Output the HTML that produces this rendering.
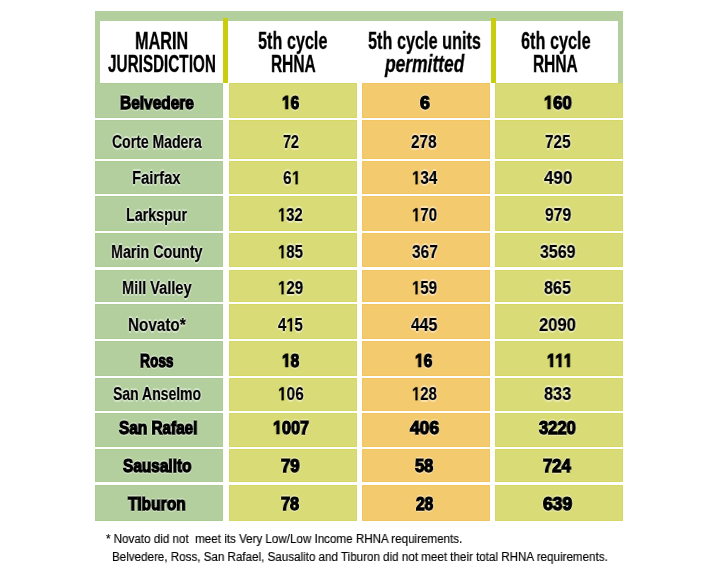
<!DOCTYPE html>
<html><head><meta charset="utf-8"><style>
html,body{margin:0;padding:0;background:#fff;width:720px;height:576px;overflow:hidden;position:relative}
.t{position:absolute;white-space:pre;font-family:"Liberation Sans",sans-serif;color:#000;line-height:1;transform-origin:0 0}
.h{text-shadow:1.6px 0 .7px rgba(255,255,255,.45),-1.6px 0 .7px rgba(255,255,255,.45),0 1.6px .7px rgba(255,255,255,.45),0 -1.6px .7px rgba(255,255,255,.45)}
.t{will-change:transform}
</style></head><body>
<div style="position:absolute;left:95.00px;top:11.00px;width:528.00px;height:72.00px;background:#b3cf9e;"></div>
<div style="position:absolute;left:100.00px;top:21.00px;width:518.00px;height:62.00px;background:#fff;"></div>
<div style="position:absolute;left:223.00px;top:17.50px;width:5.00px;height:65.00px;background:#c9cd10;"></div>
<div style="position:absolute;left:490.80px;top:17.50px;width:4.80px;height:65.00px;background:#c9cd10;"></div>
<div style="position:absolute;left:95.00px;top:82.90px;width:128.10px;height:35.10px;background:#b3cf9e;box-shadow:inset 0 0 0 1px rgba(150,190,120,.22)"></div>
<div style="position:absolute;left:228.75px;top:82.90px;width:127.95px;height:35.10px;background:#d9dc76;box-shadow:inset 0 0 0 1px rgba(200,205,40,.22)"></div>
<div style="position:absolute;left:361.70px;top:82.90px;width:128.20px;height:35.10px;background:#f4ca6f;box-shadow:inset 0 0 0 1px rgba(240,180,50,.22)"></div>
<div style="position:absolute;left:495.00px;top:82.90px;width:128.10px;height:35.10px;background:#d9dc76;box-shadow:inset 0 0 0 1px rgba(200,205,40,.22)"></div>
<div style="position:absolute;left:95.00px;top:120.40px;width:128.10px;height:38.70px;background:#b3cf9e;box-shadow:inset 0 0 0 1px rgba(150,190,120,.22)"></div>
<div style="position:absolute;left:228.75px;top:120.40px;width:127.95px;height:38.70px;background:#d9dc76;box-shadow:inset 0 0 0 1px rgba(200,205,40,.22)"></div>
<div style="position:absolute;left:361.70px;top:120.40px;width:128.20px;height:38.70px;background:#f4ca6f;box-shadow:inset 0 0 0 1px rgba(240,180,50,.22)"></div>
<div style="position:absolute;left:495.00px;top:120.40px;width:128.10px;height:38.70px;background:#d9dc76;box-shadow:inset 0 0 0 1px rgba(200,205,40,.22)"></div>
<div style="position:absolute;left:95.00px;top:161.10px;width:128.10px;height:33.10px;background:#b3cf9e;box-shadow:inset 0 0 0 1px rgba(150,190,120,.22)"></div>
<div style="position:absolute;left:228.75px;top:161.10px;width:127.95px;height:33.10px;background:#d9dc76;box-shadow:inset 0 0 0 1px rgba(200,205,40,.22)"></div>
<div style="position:absolute;left:361.70px;top:161.10px;width:128.20px;height:33.10px;background:#f4ca6f;box-shadow:inset 0 0 0 1px rgba(240,180,50,.22)"></div>
<div style="position:absolute;left:495.00px;top:161.10px;width:128.10px;height:33.10px;background:#d9dc76;box-shadow:inset 0 0 0 1px rgba(200,205,40,.22)"></div>
<div style="position:absolute;left:95.00px;top:196.25px;width:128.10px;height:34.35px;background:#b3cf9e;box-shadow:inset 0 0 0 1px rgba(150,190,120,.22)"></div>
<div style="position:absolute;left:228.75px;top:196.25px;width:127.95px;height:34.35px;background:#d9dc76;box-shadow:inset 0 0 0 1px rgba(200,205,40,.22)"></div>
<div style="position:absolute;left:361.70px;top:196.25px;width:128.20px;height:34.35px;background:#f4ca6f;box-shadow:inset 0 0 0 1px rgba(240,180,50,.22)"></div>
<div style="position:absolute;left:495.00px;top:196.25px;width:128.10px;height:34.35px;background:#d9dc76;box-shadow:inset 0 0 0 1px rgba(200,205,40,.22)"></div>
<div style="position:absolute;left:95.00px;top:233.00px;width:128.10px;height:34.20px;background:#b3cf9e;box-shadow:inset 0 0 0 1px rgba(150,190,120,.22)"></div>
<div style="position:absolute;left:228.75px;top:233.00px;width:127.95px;height:34.20px;background:#d9dc76;box-shadow:inset 0 0 0 1px rgba(200,205,40,.22)"></div>
<div style="position:absolute;left:361.70px;top:233.00px;width:128.20px;height:34.20px;background:#f4ca6f;box-shadow:inset 0 0 0 1px rgba(240,180,50,.22)"></div>
<div style="position:absolute;left:495.00px;top:233.00px;width:128.10px;height:34.20px;background:#d9dc76;box-shadow:inset 0 0 0 1px rgba(200,205,40,.22)"></div>
<div style="position:absolute;left:95.00px;top:269.60px;width:128.10px;height:32.50px;background:#b3cf9e;box-shadow:inset 0 0 0 1px rgba(150,190,120,.22)"></div>
<div style="position:absolute;left:228.75px;top:269.60px;width:127.95px;height:32.50px;background:#d9dc76;box-shadow:inset 0 0 0 1px rgba(200,205,40,.22)"></div>
<div style="position:absolute;left:361.70px;top:269.60px;width:128.20px;height:32.50px;background:#f4ca6f;box-shadow:inset 0 0 0 1px rgba(240,180,50,.22)"></div>
<div style="position:absolute;left:495.00px;top:269.60px;width:128.10px;height:32.50px;background:#d9dc76;box-shadow:inset 0 0 0 1px rgba(200,205,40,.22)"></div>
<div style="position:absolute;left:95.00px;top:304.40px;width:128.10px;height:34.50px;background:#b3cf9e;box-shadow:inset 0 0 0 1px rgba(150,190,120,.22)"></div>
<div style="position:absolute;left:228.75px;top:304.40px;width:127.95px;height:34.50px;background:#d9dc76;box-shadow:inset 0 0 0 1px rgba(200,205,40,.22)"></div>
<div style="position:absolute;left:361.70px;top:304.40px;width:128.20px;height:34.50px;background:#f4ca6f;box-shadow:inset 0 0 0 1px rgba(240,180,50,.22)"></div>
<div style="position:absolute;left:495.00px;top:304.40px;width:128.10px;height:34.50px;background:#d9dc76;box-shadow:inset 0 0 0 1px rgba(200,205,40,.22)"></div>
<div style="position:absolute;left:95.00px;top:341.10px;width:128.10px;height:34.70px;background:#b3cf9e;box-shadow:inset 0 0 0 1px rgba(150,190,120,.22)"></div>
<div style="position:absolute;left:228.75px;top:341.10px;width:127.95px;height:34.70px;background:#d9dc76;box-shadow:inset 0 0 0 1px rgba(200,205,40,.22)"></div>
<div style="position:absolute;left:361.70px;top:341.10px;width:128.20px;height:34.70px;background:#f4ca6f;box-shadow:inset 0 0 0 1px rgba(240,180,50,.22)"></div>
<div style="position:absolute;left:495.00px;top:341.10px;width:128.10px;height:34.70px;background:#d9dc76;box-shadow:inset 0 0 0 1px rgba(200,205,40,.22)"></div>
<div style="position:absolute;left:95.00px;top:378.00px;width:128.10px;height:33.00px;background:#b3cf9e;box-shadow:inset 0 0 0 1px rgba(150,190,120,.22)"></div>
<div style="position:absolute;left:228.75px;top:378.00px;width:127.95px;height:33.00px;background:#d9dc76;box-shadow:inset 0 0 0 1px rgba(200,205,40,.22)"></div>
<div style="position:absolute;left:361.70px;top:378.00px;width:128.20px;height:33.00px;background:#f4ca6f;box-shadow:inset 0 0 0 1px rgba(240,180,50,.22)"></div>
<div style="position:absolute;left:495.00px;top:378.00px;width:128.10px;height:33.00px;background:#d9dc76;box-shadow:inset 0 0 0 1px rgba(200,205,40,.22)"></div>
<div style="position:absolute;left:95.00px;top:413.10px;width:128.10px;height:33.90px;background:#b3cf9e;box-shadow:inset 0 0 0 1px rgba(150,190,120,.22)"></div>
<div style="position:absolute;left:228.75px;top:413.10px;width:127.95px;height:33.90px;background:#d9dc76;box-shadow:inset 0 0 0 1px rgba(200,205,40,.22)"></div>
<div style="position:absolute;left:361.70px;top:413.10px;width:128.20px;height:33.90px;background:#f4ca6f;box-shadow:inset 0 0 0 1px rgba(240,180,50,.22)"></div>
<div style="position:absolute;left:495.00px;top:413.10px;width:128.10px;height:33.90px;background:#d9dc76;box-shadow:inset 0 0 0 1px rgba(200,205,40,.22)"></div>
<div style="position:absolute;left:95.00px;top:449.40px;width:128.10px;height:32.90px;background:#b3cf9e;box-shadow:inset 0 0 0 1px rgba(150,190,120,.22)"></div>
<div style="position:absolute;left:228.75px;top:449.40px;width:127.95px;height:32.90px;background:#d9dc76;box-shadow:inset 0 0 0 1px rgba(200,205,40,.22)"></div>
<div style="position:absolute;left:361.70px;top:449.40px;width:128.20px;height:32.90px;background:#f4ca6f;box-shadow:inset 0 0 0 1px rgba(240,180,50,.22)"></div>
<div style="position:absolute;left:495.00px;top:449.40px;width:128.10px;height:32.90px;background:#d9dc76;box-shadow:inset 0 0 0 1px rgba(200,205,40,.22)"></div>
<div style="position:absolute;left:95.00px;top:484.60px;width:128.10px;height:36.40px;background:#b3cf9e;box-shadow:inset 0 0 0 1px rgba(150,190,120,.22)"></div>
<div style="position:absolute;left:228.75px;top:484.60px;width:127.95px;height:36.40px;background:#d9dc76;box-shadow:inset 0 0 0 1px rgba(200,205,40,.22)"></div>
<div style="position:absolute;left:361.70px;top:484.60px;width:128.20px;height:36.40px;background:#f4ca6f;box-shadow:inset 0 0 0 1px rgba(240,180,50,.22)"></div>
<div style="position:absolute;left:495.00px;top:484.60px;width:128.10px;height:36.40px;background:#d9dc76;box-shadow:inset 0 0 0 1px rgba(200,205,40,.22)"></div>
<div class="t" style="left:134.54px;top:30.00px;font-size:23.0px;font-weight:bold;font-style:normal;-webkit-text-stroke:0.3px #000;transform:scaleX(0.7062)">MARIN</div>
<div class="t" style="left:107.63px;top:53.20px;font-size:23.0px;font-weight:bold;font-style:normal;-webkit-text-stroke:0.3px #000;transform:scaleX(0.6644)">JURISDICTION</div>
<div class="t" style="left:258.25px;top:30.00px;font-size:23.0px;font-weight:bold;font-style:normal;-webkit-text-stroke:0.3px #000;transform:scaleX(0.7054)">5th cycle</div>
<div class="t" style="left:270.69px;top:53.20px;font-size:23.0px;font-weight:bold;font-style:normal;-webkit-text-stroke:0.3px #000;transform:scaleX(0.6729)">RHNA</div>
<div class="t" style="left:367.85px;top:30.00px;font-size:23.0px;font-weight:bold;font-style:normal;-webkit-text-stroke:0.3px #000;transform:scaleX(0.7066)">5th cycle units</div>
<div class="t" style="left:385.48px;top:53.20px;font-size:23.0px;font-weight:bold;font-style:italic;-webkit-text-stroke:0.3px #000;transform:scaleX(0.7565)">permitted</div>
<div class="t" style="left:521.47px;top:30.00px;font-size:23.0px;font-weight:bold;font-style:normal;-webkit-text-stroke:0.3px #000;transform:scaleX(0.7072)">6th cycle</div>
<div class="t" style="left:533.19px;top:53.20px;font-size:23.0px;font-weight:bold;font-style:normal;-webkit-text-stroke:0.3px #000;transform:scaleX(0.6729)">RHNA</div>
<div class="t h" style="left:120.18px;top:94.10px;font-size:18.2px;font-weight:bold;font-style:normal;-webkit-text-stroke:1.25px #000;transform:scaleX(0.8497)">Belvedere</div>
<div class="t h" style="left:282.07px;top:94.10px;font-size:18.2px;font-weight:bold;font-style:normal;-webkit-text-stroke:1.25px #000;transform:scaleX(0.8557)"><svg style="display:inline-block;width:0.5562em;height:0.7em;vertical-align:baseline;overflow:visible" viewBox="0 0 1139 1434" preserveAspectRatio="none"><path transform="translate(0,1434) scale(1,-1)" d="M478 0L478 1170L140 959L140 1180L493 1409L759 1409L759 0Z" fill="#000" stroke="#000" stroke-width="140.7" stroke-linejoin="miter"/></svg>6</div>
<div class="t h" style="left:419.70px;top:94.10px;font-size:18.2px;font-weight:bold;font-style:normal;-webkit-text-stroke:1.25px #000;transform:scaleX(0.9700)">6</div>
<div class="t h" style="left:544.14px;top:94.10px;font-size:18.2px;font-weight:bold;font-style:normal;-webkit-text-stroke:1.25px #000;transform:scaleX(0.9143)"><svg style="display:inline-block;width:0.5562em;height:0.7em;vertical-align:baseline;overflow:visible" viewBox="0 0 1139 1434" preserveAspectRatio="none"><path transform="translate(0,1434) scale(1,-1)" d="M478 0L478 1170L140 959L140 1180L493 1409L759 1409L759 0Z" fill="#000" stroke="#000" stroke-width="140.7" stroke-linejoin="miter"/></svg>60</div>
<div class="t h" style="left:112.35px;top:132.40px;font-size:19.1px;font-weight:bold;font-style:normal;-webkit-text-stroke:0.2px #000;transform:scaleX(0.7342)">Corte Madera</div>
<div class="t h" style="left:282.53px;top:132.40px;font-size:19.1px;font-weight:bold;font-style:normal;-webkit-text-stroke:0.2px #000;transform:scaleX(0.7544)">72</div>
<div class="t h" style="left:411.20px;top:132.40px;font-size:19.1px;font-weight:bold;font-style:normal;-webkit-text-stroke:0.2px #000;transform:scaleX(0.8032)">278</div>
<div class="t h" style="left:545.00px;top:132.40px;font-size:19.1px;font-weight:bold;font-style:normal;-webkit-text-stroke:0.2px #000;transform:scaleX(0.8033)">725</div>
<div class="t h" style="left:132.08px;top:168.40px;font-size:19.1px;font-weight:bold;font-style:normal;-webkit-text-stroke:0.2px #000;transform:scaleX(0.7747)">Fairfax</div>
<div class="t h" style="left:282.69px;top:168.40px;font-size:19.1px;font-weight:bold;font-style:normal;-webkit-text-stroke:0.2px #000;transform:scaleX(0.8113)">6<svg style="display:inline-block;width:0.5562em;height:0.7em;vertical-align:baseline;overflow:visible" viewBox="0 0 1139 1434" preserveAspectRatio="none"><path transform="translate(0,1434) scale(1,-1)" d="M478 0L478 1170L140 959L140 1180L493 1409L759 1409L759 0Z" fill="#000" stroke="#000" stroke-width="21.4" stroke-linejoin="miter"/></svg></div>
<div class="t h" style="left:411.51px;top:168.40px;font-size:19.1px;font-weight:bold;font-style:normal;-webkit-text-stroke:0.2px #000;transform:scaleX(0.7935)"><svg style="display:inline-block;width:0.5562em;height:0.7em;vertical-align:baseline;overflow:visible" viewBox="0 0 1139 1434" preserveAspectRatio="none"><path transform="translate(0,1434) scale(1,-1)" d="M478 0L478 1170L140 959L140 1180L493 1409L759 1409L759 0Z" fill="#000" stroke="#000" stroke-width="21.4" stroke-linejoin="miter"/></svg>34</div>
<div class="t h" style="left:543.98px;top:168.40px;font-size:19.1px;font-weight:bold;font-style:normal;-webkit-text-stroke:0.2px #000;transform:scaleX(0.8903)">490</div>
<div class="t h" style="left:125.87px;top:205.10px;font-size:19.1px;font-weight:bold;font-style:normal;-webkit-text-stroke:0.2px #000;transform:scaleX(0.7477)">Larkspur</div>
<div class="t h" style="left:278.23px;top:205.10px;font-size:19.1px;font-weight:bold;font-style:normal;-webkit-text-stroke:0.2px #000;transform:scaleX(0.7767)"><svg style="display:inline-block;width:0.5562em;height:0.7em;vertical-align:baseline;overflow:visible" viewBox="0 0 1139 1434" preserveAspectRatio="none"><path transform="translate(0,1434) scale(1,-1)" d="M478 0L478 1170L140 959L140 1180L493 1409L759 1409L759 0Z" fill="#000" stroke="#000" stroke-width="21.4" stroke-linejoin="miter"/></svg>32</div>
<div class="t h" style="left:411.52px;top:205.10px;font-size:19.1px;font-weight:bold;font-style:normal;-webkit-text-stroke:0.2px #000;transform:scaleX(0.7867)"><svg style="display:inline-block;width:0.5562em;height:0.7em;vertical-align:baseline;overflow:visible" viewBox="0 0 1139 1434" preserveAspectRatio="none"><path transform="translate(0,1434) scale(1,-1)" d="M478 0L478 1170L140 959L140 1180L493 1409L759 1409L759 0Z" fill="#000" stroke="#000" stroke-width="21.4" stroke-linejoin="miter"/></svg>70</div>
<div class="t h" style="left:545.19px;top:205.10px;font-size:19.1px;font-weight:bold;font-style:normal;-webkit-text-stroke:0.2px #000;transform:scaleX(0.8228)">979</div>
<div class="t h" style="left:110.96px;top:241.80px;font-size:19.1px;font-weight:bold;font-style:normal;-webkit-text-stroke:0.2px #000;transform:scaleX(0.7503)">Marin County</div>
<div class="t h" style="left:278.22px;top:241.80px;font-size:19.1px;font-weight:bold;font-style:normal;-webkit-text-stroke:0.2px #000;transform:scaleX(0.7835)"><svg style="display:inline-block;width:0.5562em;height:0.7em;vertical-align:baseline;overflow:visible" viewBox="0 0 1139 1434" preserveAspectRatio="none"><path transform="translate(0,1434) scale(1,-1)" d="M478 0L478 1170L140 959L140 1180L493 1409L759 1409L759 0Z" fill="#000" stroke="#000" stroke-width="21.4" stroke-linejoin="miter"/></svg>85</div>
<div class="t h" style="left:411.50px;top:241.80px;font-size:19.1px;font-weight:bold;font-style:normal;-webkit-text-stroke:0.2px #000;transform:scaleX(0.8129)">367</div>
<div class="t h" style="left:540.49px;top:241.80px;font-size:19.1px;font-weight:bold;font-style:normal;-webkit-text-stroke:0.2px #000;transform:scaleX(0.8383)">3569</div>
<div class="t h" style="left:121.95px;top:278.30px;font-size:19.1px;font-weight:bold;font-style:normal;-webkit-text-stroke:0.2px #000;transform:scaleX(0.7622)">Mill Valley</div>
<div class="t h" style="left:278.21px;top:278.30px;font-size:19.1px;font-weight:bold;font-style:normal;-webkit-text-stroke:0.2px #000;transform:scaleX(0.7900)"><svg style="display:inline-block;width:0.5562em;height:0.7em;vertical-align:baseline;overflow:visible" viewBox="0 0 1139 1434" preserveAspectRatio="none"><path transform="translate(0,1434) scale(1,-1)" d="M478 0L478 1170L140 959L140 1180L493 1409L759 1409L759 0Z" fill="#000" stroke="#000" stroke-width="21.4" stroke-linejoin="miter"/></svg>29</div>
<div class="t h" style="left:411.52px;top:278.30px;font-size:19.1px;font-weight:bold;font-style:normal;-webkit-text-stroke:0.2px #000;transform:scaleX(0.7867)"><svg style="display:inline-block;width:0.5562em;height:0.7em;vertical-align:baseline;overflow:visible" viewBox="0 0 1139 1434" preserveAspectRatio="none"><path transform="translate(0,1434) scale(1,-1)" d="M478 0L478 1170L140 959L140 1180L493 1409L759 1409L759 0Z" fill="#000" stroke="#000" stroke-width="21.4" stroke-linejoin="miter"/></svg>59</div>
<div class="t h" style="left:544.18px;top:278.30px;font-size:19.1px;font-weight:bold;font-style:normal;-webkit-text-stroke:0.2px #000;transform:scaleX(0.8484)">865</div>
<div class="t h" style="left:127.80px;top:314.80px;font-size:19.1px;font-weight:bold;font-style:normal;-webkit-text-stroke:0.2px #000;transform:scaleX(0.8000)">Novato*</div>
<div class="t h" style="left:278.41px;top:314.80px;font-size:19.1px;font-weight:bold;font-style:normal;-webkit-text-stroke:0.2px #000;transform:scaleX(0.7776)">4<svg style="display:inline-block;width:0.5562em;height:0.7em;vertical-align:baseline;overflow:visible" viewBox="0 0 1139 1434" preserveAspectRatio="none"><path transform="translate(0,1434) scale(1,-1)" d="M478 0L478 1170L140 959L140 1180L493 1409L759 1409L759 0Z" fill="#000" stroke="#000" stroke-width="21.4" stroke-linejoin="miter"/></svg>5</div>
<div class="t h" style="left:411.19px;top:314.80px;font-size:19.1px;font-weight:bold;font-style:normal;-webkit-text-stroke:0.2px #000;transform:scaleX(0.8256)">445</div>
<div class="t h" style="left:539.36px;top:314.80px;font-size:19.1px;font-weight:bold;font-style:normal;-webkit-text-stroke:0.2px #000;transform:scaleX(0.8703)">2090</div>
<div class="t h" style="left:140.32px;top:352.10px;font-size:18.2px;font-weight:bold;font-style:normal;-webkit-text-stroke:1.25px #000;transform:scaleX(0.7543)">Ross</div>
<div class="t h" style="left:282.07px;top:352.10px;font-size:18.2px;font-weight:bold;font-style:normal;-webkit-text-stroke:1.25px #000;transform:scaleX(0.8557)"><svg style="display:inline-block;width:0.5562em;height:0.7em;vertical-align:baseline;overflow:visible" viewBox="0 0 1139 1434" preserveAspectRatio="none"><path transform="translate(0,1434) scale(1,-1)" d="M478 0L478 1170L140 959L140 1180L493 1409L759 1409L759 0Z" fill="#000" stroke="#000" stroke-width="140.7" stroke-linejoin="miter"/></svg>8</div>
<div class="t h" style="left:415.37px;top:352.10px;font-size:18.2px;font-weight:bold;font-style:normal;-webkit-text-stroke:1.25px #000;transform:scaleX(0.8608)"><svg style="display:inline-block;width:0.5562em;height:0.7em;vertical-align:baseline;overflow:visible" viewBox="0 0 1139 1434" preserveAspectRatio="none"><path transform="translate(0,1434) scale(1,-1)" d="M478 0L478 1170L140 959L140 1180L493 1409L759 1409L759 0Z" fill="#000" stroke="#000" stroke-width="140.7" stroke-linejoin="miter"/></svg>6</div>
<div class="t h" style="left:546.58px;top:352.10px;font-size:18.2px;font-weight:bold;font-style:normal;-webkit-text-stroke:1.25px #000;transform:scaleX(0.8411)"><svg style="display:inline-block;width:0.5562em;height:0.7em;vertical-align:baseline;overflow:visible" viewBox="0 0 1139 1434" preserveAspectRatio="none"><path transform="translate(0,1434) scale(1,-1)" d="M478 0L478 1170L140 959L140 1180L493 1409L759 1409L759 0Z" fill="#000" stroke="#000" stroke-width="140.7" stroke-linejoin="miter"/></svg><svg style="display:inline-block;width:0.5562em;height:0.7em;vertical-align:baseline;overflow:visible" viewBox="0 0 1139 1434" preserveAspectRatio="none"><path transform="translate(0,1434) scale(1,-1)" d="M478 0L478 1170L140 959L140 1180L493 1409L759 1409L759 0Z" fill="#000" stroke="#000" stroke-width="140.7" stroke-linejoin="miter"/></svg><svg style="display:inline-block;width:0.5562em;height:0.7em;vertical-align:baseline;overflow:visible" viewBox="0 0 1139 1434" preserveAspectRatio="none"><path transform="translate(0,1434) scale(1,-1)" d="M478 0L478 1170L140 959L140 1180L493 1409L759 1409L759 0Z" fill="#000" stroke="#000" stroke-width="140.7" stroke-linejoin="miter"/></svg></div>
<div class="t h" style="left:113.23px;top:384.10px;font-size:19.1px;font-weight:bold;font-style:normal;-webkit-text-stroke:0.2px #000;transform:scaleX(0.7328)">San Anselmo</div>
<div class="t h" style="left:277.59px;top:384.10px;font-size:19.1px;font-weight:bold;font-style:normal;-webkit-text-stroke:0.2px #000;transform:scaleX(0.8100)"><svg style="display:inline-block;width:0.5562em;height:0.7em;vertical-align:baseline;overflow:visible" viewBox="0 0 1139 1434" preserveAspectRatio="none"><path transform="translate(0,1434) scale(1,-1)" d="M478 0L478 1170L140 959L140 1180L493 1409L759 1409L759 0Z" fill="#000" stroke="#000" stroke-width="21.4" stroke-linejoin="miter"/></svg>06</div>
<div class="t h" style="left:411.52px;top:384.10px;font-size:19.1px;font-weight:bold;font-style:normal;-webkit-text-stroke:0.2px #000;transform:scaleX(0.7802)"><svg style="display:inline-block;width:0.5562em;height:0.7em;vertical-align:baseline;overflow:visible" viewBox="0 0 1139 1434" preserveAspectRatio="none"><path transform="translate(0,1434) scale(1,-1)" d="M478 0L478 1170L140 959L140 1180L493 1409L759 1409L759 0Z" fill="#000" stroke="#000" stroke-width="21.4" stroke-linejoin="miter"/></svg>28</div>
<div class="t h" style="left:544.17px;top:384.10px;font-size:19.1px;font-weight:bold;font-style:normal;-webkit-text-stroke:0.2px #000;transform:scaleX(0.8553)">833</div>
<div class="t h" style="left:118.51px;top:419.00px;font-size:18.2px;font-weight:bold;font-style:normal;-webkit-text-stroke:1.25px #000;transform:scaleX(0.8432)">San Rafael</div>
<div class="t h" style="left:272.85px;top:419.00px;font-size:18.2px;font-weight:bold;font-style:normal;-webkit-text-stroke:1.25px #000;transform:scaleX(0.8906)"><svg style="display:inline-block;width:0.5562em;height:0.7em;vertical-align:baseline;overflow:visible" viewBox="0 0 1139 1434" preserveAspectRatio="none"><path transform="translate(0,1434) scale(1,-1)" d="M478 0L478 1170L140 959L140 1180L493 1409L759 1409L759 0Z" fill="#000" stroke="#000" stroke-width="140.7" stroke-linejoin="miter"/></svg>007</div>
<div class="t h" style="left:409.94px;top:419.00px;font-size:18.2px;font-weight:bold;font-style:normal;-webkit-text-stroke:1.25px #000;transform:scaleX(0.9574)">406</div>
<div class="t h" style="left:539.43px;top:419.00px;font-size:18.2px;font-weight:bold;font-style:normal;-webkit-text-stroke:1.25px #000;transform:scaleX(0.9111)">3220</div>
<div class="t h" style="left:123.11px;top:456.70px;font-size:18.2px;font-weight:bold;font-style:normal;-webkit-text-stroke:1.25px #000;transform:scaleX(0.8469)">Sausalito</div>
<div class="t h" style="left:281.27px;top:456.70px;font-size:18.2px;font-weight:bold;font-style:normal;-webkit-text-stroke:1.25px #000;transform:scaleX(0.9250)">79</div>
<div class="t h" style="left:415.00px;top:456.70px;font-size:18.2px;font-weight:bold;font-style:normal;-webkit-text-stroke:1.25px #000;transform:scaleX(0.9037)">58</div>
<div class="t h" style="left:543.37px;top:456.70px;font-size:18.2px;font-weight:bold;font-style:normal;-webkit-text-stroke:1.25px #000;transform:scaleX(0.9171)">724</div>
<div class="t h" style="left:128.43px;top:494.70px;font-size:18.2px;font-weight:bold;font-style:normal;-webkit-text-stroke:1.25px #000;transform:scaleX(0.8565)">Tiburon</div>
<div class="t h" style="left:281.28px;top:494.70px;font-size:18.2px;font-weight:bold;font-style:normal;-webkit-text-stroke:1.25px #000;transform:scaleX(0.8950)">78</div>
<div class="t h" style="left:415.80px;top:494.70px;font-size:18.2px;font-weight:bold;font-style:normal;-webkit-text-stroke:1.25px #000;transform:scaleX(0.8543)">28</div>
<div class="t h" style="left:543.10px;top:494.70px;font-size:18.2px;font-weight:bold;font-style:normal;-webkit-text-stroke:1.25px #000;transform:scaleX(0.9620)">639</div>
<div class="t" style="left:105.8px;top:533.32px;font-size:12.5px;-webkit-text-stroke:0.15px #000;transform:scaleX(0.929)">* Novato did not  meet its Very Low/Low Income RHNA requirements.</div>
<div class="t" style="left:112.4px;top:550.52px;font-size:12.5px;-webkit-text-stroke:0.15px #000;transform:scaleX(0.929)">Belvedere, Ross, San Rafael, Sausalito and Tiburon did not meet their total RHNA requirements.</div>
</body></html>
